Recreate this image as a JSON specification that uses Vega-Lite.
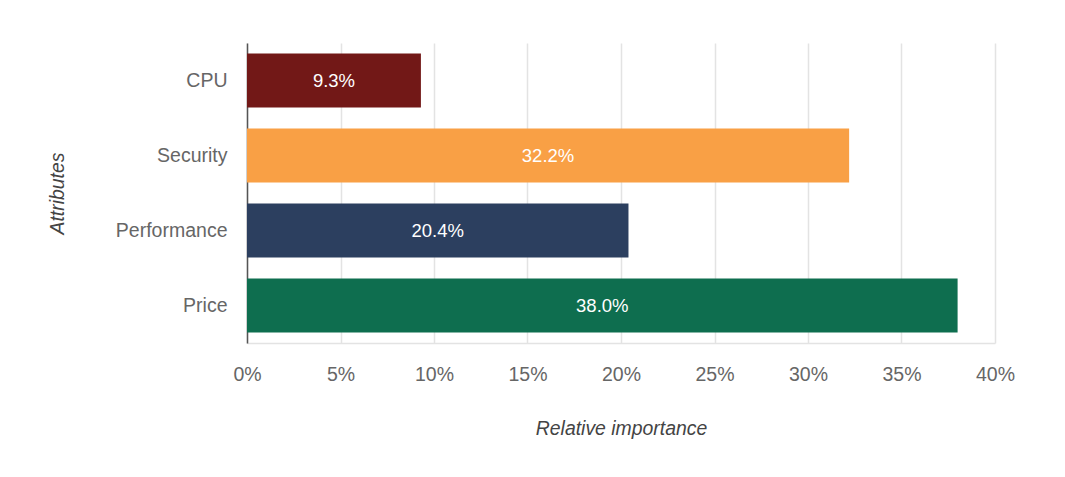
{
  "$schema": "https://vega.github.io/schema/vega-lite/v6.json",
  "autosize": {"type": "none"},
  "width": 748,
  "height": 300,
  "padding": {"left": 247, "top": 43, "right": 70, "bottom": 134},
  "background": "white",
  "data": {
    "values": [
      {"attribute": "CPU", "importance": 0.093},
      {"attribute": "Security", "importance": 0.322},
      {"attribute": "Performance", "importance": 0.204},
      {"attribute": "Price", "importance": 0.380}
    ]
  },
  "config": {
    "font": "Liberation Sans",
    "view": {"stroke": null},
    "axis": {
      "labelFont": "Liberation Sans",
      "titleFont": "Liberation Sans",
      "labelColor": "#666666",
      "titleColor": "#444444",
      "labelFontSize": 19.5,
      "titleFontSize": 19.4,
      "titleFontStyle": "italic",
      "titleFontWeight": "normal"
    }
  },
  "layer": [
    {
      "mark": {"type": "bar"},
      "encoding": {
        "y": {
          "field": "attribute",
          "type": "nominal",
          "sort": null,
          "title": "Attributes",
          "scale": {"paddingInner": 0.28, "paddingOuter": 0.14},
          "axis": {
            "ticks": false,
            "labelPadding": 20,
            "domainColor": "#555555",
            "domainWidth": 1.5,
            "titlePadding": 48
          }
        },
        "x": {
          "field": "importance",
          "type": "quantitative",
          "title": "Relative importance",
          "scale": {"domain": [0, 0.4], "nice": false},
          "axis": {
            "format": ".0%",
            "values": [0, 0.05, 0.1, 0.15, 0.2, 0.25, 0.3, 0.35, 0.4],
            "ticks": false,
            "labelFlush": false,
            "labelPadding": 22,
            "gridColor": "#e3e3e3",
            "gridWidth": 1.5,
            "domainColor": "#e3e3e3",
            "domainWidth": 1.5,
            "titlePadding": 36
          }
        },
        "color": {
          "field": "attribute",
          "type": "nominal",
          "legend": null,
          "scale": {
            "domain": ["CPU", "Security", "Performance", "Price"],
            "range": ["#721817", "#F9A045", "#2C3F5F", "#0E6E4F"]
          }
        }
      }
    },
    {
      "transform": [{"calculate": "datum.importance / 2", "as": "labelPos"}],
      "mark": {"type": "text", "color": "white", "fontSize": 18.5, "font": "Liberation Sans", "baseline": "middle", "align": "center"},
      "encoding": {
        "y": {"field": "attribute", "type": "nominal", "sort": null},
        "x": {"field": "labelPos", "type": "quantitative"},
        "text": {"field": "importance", "type": "quantitative", "format": ".1%"}
      }
    }
  ]
}
